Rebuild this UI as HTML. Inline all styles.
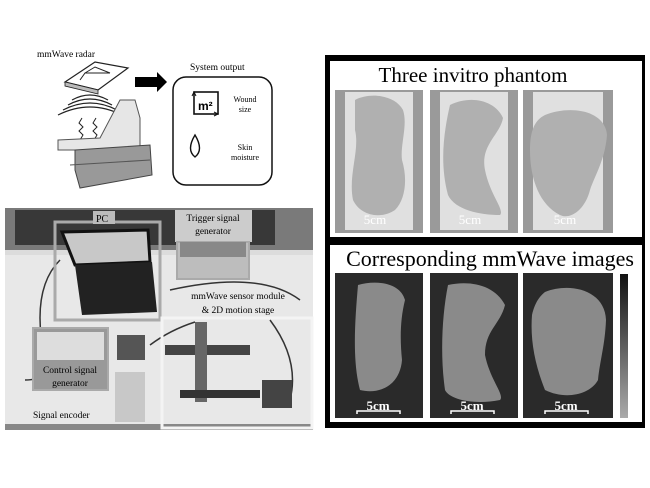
<!DOCTYPE html>
<html><head><meta charset="utf-8"><style>
body{margin:0;width:650px;height:488px;background:#fff;overflow:hidden;position:relative;font-family:"Liberation Serif",serif}
.a{position:absolute}
</style></head><body>
<svg class="a" style="left:0;top:0" width="650" height="488">
<!-- top-left diagram -->
<text x="37" y="57" font-size="9.5" font-family="Liberation Serif">mmWave radar</text>
<polygon points="65,82 95,62 128,68 98,90" fill="#fff" stroke="#222" stroke-width="1.2"/>
<polygon points="65,82 98,90 98,94 65,86" fill="#bbb" stroke="#222" stroke-width="0.8"/>
<path d="M80,80 L85,73 L110,73 M85,73 L95,67 L110,73" stroke="#222" fill="none"/>
<path d="M68,105 Q90,93 112,105 M63,110 Q90,96 117,110 M58,115 Q90,99 122,115 M72,100 Q90,90 108,100" stroke="#222" fill="none" stroke-width="1.2"/>
<path d="M82,118 l-3,5 l4,4 l-4,4 l4,4 l-3,5 M96,118 l-3,5 l4,4 l-4,4 l4,4 l-3,5" stroke="#222" fill="none"/>
<path d="M58,140 L100,138 L120,100 L135,100 L140,118 L140,160 L100,160 L80,150 L58,150Z" fill="#e6e6e6" stroke="#555"/>
<path d="M75,150 L150,145 L152,175 L80,188 L75,170Z" fill="#999" stroke="#444"/>
<path d="M70,165 L150,160" stroke="#555"/>
<polygon points="135,77 157,77 157,72 167,82 157,92 157,87 135,87" fill="#000"/>
<text x="190" y="70" font-size="9.5">System output</text>
<rect x="173" y="77" width="99" height="108" rx="13" fill="#fff" stroke="#111" stroke-width="1.5"/>
<rect x="194" y="92" width="24" height="22" fill="none" stroke="#111" stroke-width="1.6"/>
<path d="M192,96 l2,-4 l2,4 M214,116 l4,-2 l-4,-2" stroke="#111" fill="none"/>
<text x="198" y="110" font-size="12" font-weight="bold" font-family="Liberation Sans">m²</text>
<path d="M195,135 Q186,150 195,157 Q204,150 195,135Z" fill="#fff" stroke="#111" stroke-width="1.4"/>
<text x="245" y="102" font-size="8" text-anchor="middle">Wound</text>
<text x="245" y="112" font-size="8" text-anchor="middle">size</text>
<text x="245" y="150" font-size="8" text-anchor="middle">Skin</text>
<text x="245" y="160" font-size="8" text-anchor="middle">moisture</text>

<!-- photo -->
<rect x="5" y="208" width="308" height="222" fill="#dcdcdc"/>
<rect x="5" y="208" width="308" height="42" fill="#7a7a7a"/>
<rect x="15" y="210" width="260" height="35" fill="#383838"/>
<rect x="5" y="255" width="308" height="170" fill="#e8e8e8"/>
<rect x="5" y="424" width="308" height="6" fill="#888"/>
<path d="M60,260 Q30,290 45,360 Q50,380 25,380 M170,290 Q260,270 300,300 M150,345 Q170,330 195,322 M270,320 Q300,360 290,400" stroke="#333" fill="none" stroke-width="1.5"/>
<polygon points="62,232 148,230 150,262 75,265" fill="#c8c8c8" stroke="#111" stroke-width="3"/>
<polygon points="75,265 152,262 157,312 82,315" fill="#222"/>
<rect x="55" y="222" width="105" height="98" fill="none" stroke="#aaa" stroke-width="3"/>
<rect x="93" y="211" width="22" height="13" fill="#bbb"/>
<text x="96" y="222" font-size="10">PC</text>
<rect x="175" y="210" width="77" height="32" fill="#ccc"/>
<text x="213" y="221" font-size="9.5" text-anchor="middle">Trigger signal</text>
<text x="213" y="234" font-size="9.5" text-anchor="middle">generator</text>
<rect x="177" y="242" width="72" height="37" fill="#bdbdbd" stroke="#aaa" stroke-width="2"/>
<rect x="180" y="242" width="66" height="15" fill="#888"/>
<text x="238" y="299" font-size="9.5" text-anchor="middle">mmWave sensor module</text>
<text x="238" y="313" font-size="9.5" text-anchor="middle">&amp; 2D motion stage</text>
<rect x="162" y="318" width="150" height="110" fill="none" stroke="#f4f4f4" stroke-width="3"/>
<rect x="165" y="345" width="85" height="10" fill="#444"/>
<rect x="195" y="322" width="12" height="80" fill="#666"/>
<rect x="180" y="390" width="80" height="8" fill="#333"/>
<rect x="262" y="380" width="30" height="28" fill="#444"/>
<rect x="33" y="328" width="75" height="62" fill="#999" stroke="#aaa" stroke-width="2"/>
<rect x="37" y="332" width="67" height="28" fill="#ddd"/>
<text x="70" y="373" font-size="9.5" text-anchor="middle">Control signal</text>
<text x="70" y="386" font-size="9.5" text-anchor="middle">generator</text>
<rect x="117" y="335" width="28" height="25" fill="#555"/>
<rect x="115" y="372" width="30" height="50" fill="#c8c8c8"/>
<text x="33" y="418" font-size="9.5">Signal encoder</text>

<!-- right panel -->
<rect x="325" y="55" width="320" height="373" fill="#000"/>
<rect x="330" y="61" width="312" height="176" fill="#fff"/>
<rect x="330" y="245" width="312" height="177" fill="#fff"/>
<text x="473" y="82" font-size="21" text-anchor="middle">Three invitro phantom</text>
<text x="490" y="266" font-size="22" text-anchor="middle">Corresponding mmWave images</text>
<g>
<rect x="335" y="90" width="88" height="143" fill="#9a9a9a"/><rect x="345" y="92" width="68" height="138" fill="#e0e0e0"/>
<path d="M355,100 C370,92 395,95 403,110 C408,125 400,145 402,160 C408,180 405,200 395,210 C380,220 360,215 353,200 C348,175 360,150 355,130Z" fill="#b0b0b0"/>
<rect x="430" y="90" width="88" height="143" fill="#9a9a9a"/><rect x="440" y="92" width="68" height="138" fill="#e0e0e0"/>
<path d="M450,105 C470,95 495,100 503,118 C500,135 480,145 485,170 C490,195 505,210 500,215 C480,215 455,210 448,195 C440,165 443,135 450,105Z" fill="#b0b0b0"/>
<rect x="523" y="90" width="90" height="143" fill="#9a9a9a"/><rect x="533" y="92" width="70" height="138" fill="#e0e0e0"/>
<path d="M545,115 C570,105 605,110 607,135 C605,160 595,175 590,190 C585,210 570,220 560,215 C540,205 530,180 530,150 C530,130 535,120 545,115Z" fill="#b0b0b0"/>
</g>
<g font-size="13" fill="#fff" text-anchor="middle"><text x="375" y="224">5cm</text><text x="470" y="224">5cm</text><text x="565" y="224">5cm</text></g>
<g>
<rect x="335" y="273" width="88" height="145" fill="#2a2a2a"/>
<path d="M358,285 C375,280 400,282 405,300 C400,320 400,340 402,360 C400,385 380,395 360,390 C352,360 355,320 358,285Z" fill="#8a8a8a"/>
<rect x="430" y="273" width="88" height="145" fill="#2a2a2a"/>
<path d="M448,285 C470,280 495,285 505,305 C500,325 485,330 485,355 C490,380 505,395 500,400 C475,405 450,400 445,390 C440,355 442,315 448,285Z" fill="#8a8a8a"/>
<rect x="523" y="273" width="90" height="145" fill="#2a2a2a"/>
<path d="M545,292 C570,282 605,290 606,320 C605,345 600,360 598,380 C590,395 565,400 545,390 C535,365 530,340 532,315 C535,302 540,296 545,292Z" fill="#8a8a8a"/>
</g>
<g font-size="13" fill="#fff" text-anchor="middle" font-weight="bold"><text x="378" y="410">5cm</text><text x="472" y="410">5cm</text><text x="566" y="410">5cm</text></g>
<g stroke="#fff" stroke-width="1.5" fill="none"><path d="M357,414 V411 H400 V414 M451,414 V411 H494 V414 M545,414 V411 H588 V414"/></g>
<defs><linearGradient id="cb" x1="0" y1="0" x2="0" y2="1"><stop offset="0" stop-color="#111"/><stop offset="1" stop-color="#aaa"/></linearGradient></defs>
<rect x="620" y="274" width="8" height="144" fill="url(#cb)"/>
</svg>
</body></html>
